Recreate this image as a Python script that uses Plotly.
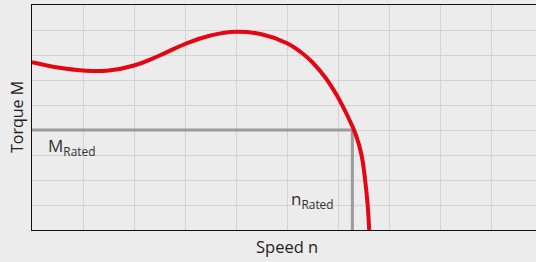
import plotly.graph_objects as go

# Torque-speed curve (x: speed in grid units, y: torque in grid units)
speed = [0.0, 0.5, 1.0, 1.5, 2.0, 2.5, 3.0, 3.5, 4.0, 4.5, 5.0, 5.28, 5.5, 5.75, 6.0, 6.2, 6.35, 6.46, 6.53, 6.58, 6.61]
torque = [6.71, 6.5, 6.38, 6.38, 6.58, 6.98, 7.44, 7.78, 7.93, 7.83, 7.47, 7.1, 6.7, 6.1, 5.3, 4.5, 3.8, 3.0, 2.0, 1.0, 0.0]

rated_speed = 6.28
rated_torque = 4.0

x_range = [0, 9.88]
y_range = [0, 9]

fig = go.Figure()

# Rated lines
fig.add_trace(go.Scatter(x=[0, rated_speed, rated_speed], y=[rated_torque, rated_torque, 0],
                         mode="lines", line=dict(color="#9b9b9b", width=3),
                         hoverinfo="skip", showlegend=False))

fig.add_trace(go.Scatter(x=speed, y=torque, mode="lines",
                         line=dict(color="#e30613", width=4, shape="spline", smoothing=1.3),
                         hoverinfo="skip", showlegend=False))

font = "Open Sans, Noto Sans, sans-serif"

fig.add_annotation(text="M<sub>Rated</sub>", x=0.27, y=rated_torque, xref="x", yref="y",
                   xanchor="left", yanchor="top", showarrow=False, yshift=-2,
                   font=dict(family=font, size=17, color="#333333"))
fig.add_annotation(text="n<sub>Rated</sub>", x=rated_speed, y=1.8, xref="x", yref="y",
                   xanchor="right", yanchor="top", showarrow=False, xshift=-16,
                   font=dict(family=font, size=17, color="#333333"))

# Axis titles
fig.add_annotation(text="Speed n", x=(287 - 32) / 504, y=-16 / 225, xref="paper", yref="paper",
                   xanchor="center", yanchor="middle", showarrow=False,
                   font=dict(family=font, size=16.5, color="#222222"))
fig.add_annotation(text="Torque M", textangle=-90, x=-15 / 504, y=(230 - 117) / 225,
                   xref="paper", yref="paper", xanchor="center", yanchor="middle", showarrow=False,
                   font=dict(family=font, size=16, color="#222222"))

fig.update_layout(
    width=536, height=262,
    margin=dict(l=32, r=0, t=5, b=32),
    paper_bgcolor="#ececec", plot_bgcolor="#ececec",
    xaxis=dict(range=x_range, dtick=1, tick0=0, showticklabels=False, ticks="",
               showgrid=True, gridcolor="#d3d3d3", gridwidth=1, zeroline=False,
               showline=True, linecolor="#111111", linewidth=1, mirror=True, fixedrange=True),
    yaxis=dict(range=y_range, dtick=1, tick0=0, showticklabels=False, ticks="",
               showgrid=True, gridcolor="#d3d3d3", gridwidth=1, zeroline=False,
               showline=True, linecolor="#111111", linewidth=1, fixedrange=True),
)

fig.write_html("out.html", config={"displayModeBar": False},
               post_script="document.body.style.margin='0';document.body.style.background='#ececec';")
